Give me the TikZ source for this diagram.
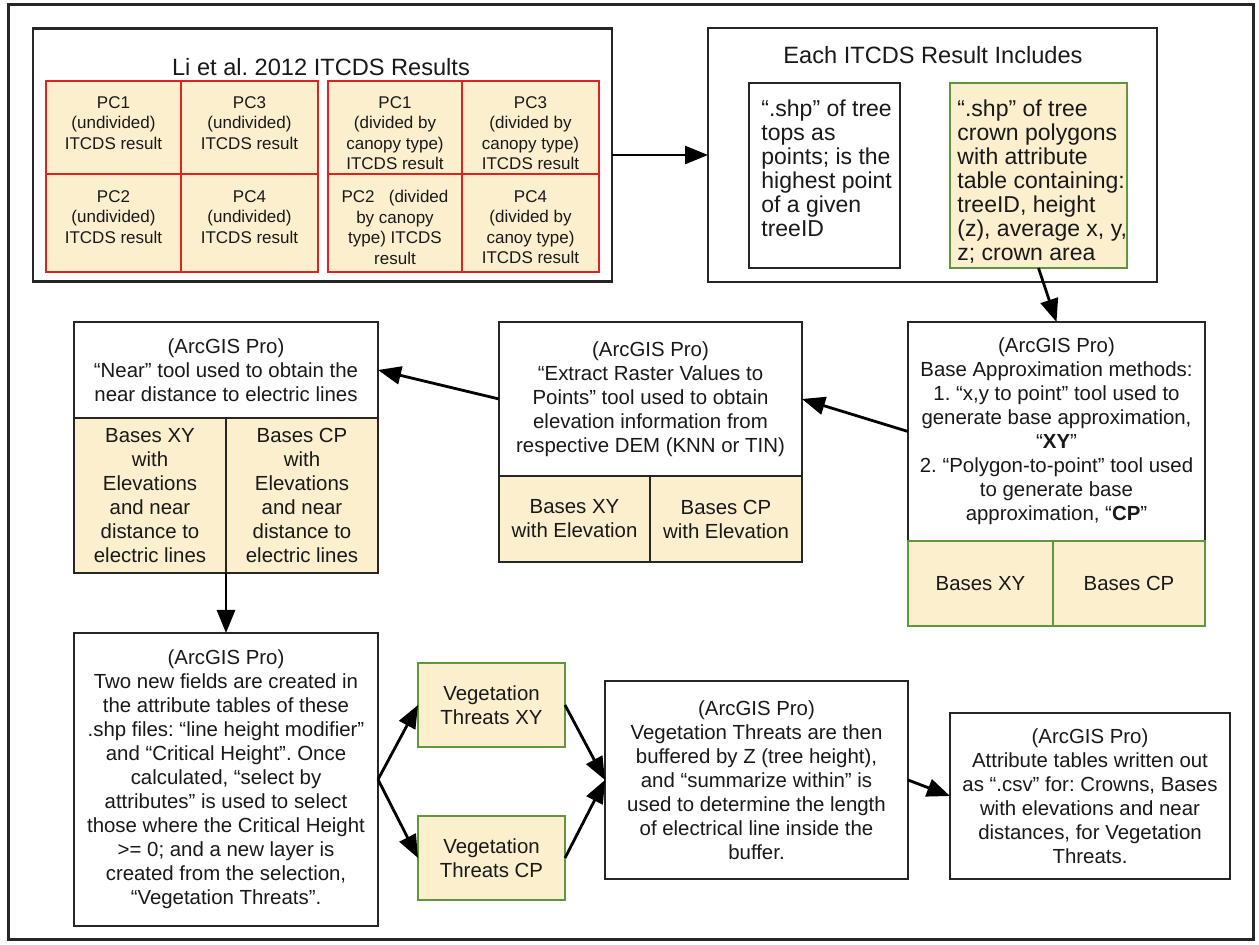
\documentclass[tikz,border=0pt]{standalone}
\usepackage{fontspec}
\setmainfont{Liberation Sans}
\usetikzlibrary{arrows.meta}
\frenchspacing
\definecolor{cream}{RGB}{252,239,206}
\definecolor{redb}{RGB}{222,34,34}
\definecolor{greenb}{RGB}{96,150,62}
\definecolor{boxb}{RGB}{38,38,38}
\definecolor{txt}{RGB}{25,25,25}
\newcommand\myfmain{\fontsize{10.2}{12}\selectfont}
\newcommand\myfcell{\fontsize{8.5}{10.25}\selectfont}
\newcommand\myfbig{\fontsize{11.5}{12}\selectfont}
\newcommand\myftitle{\fontsize{11.8}{14}\selectfont}
\tikzset{
  box/.style={draw=boxb, line width=1.2pt, inner sep=0pt, outer sep=0pt, align=center, font=\myfmain, text=txt},
  fillbox/.style={box, fill=cream},
  greenbox/.style={box, fill=cream, draw=greenb},
  redcell/.style={draw=redb, line width=1pt, fill=cream, inner sep=0pt, outer sep=0pt},
  celltxt/.style={inner sep=0pt, align=center, font=\myfcell, text=txt},
  titletxt/.style={inner sep=0pt, font=\myftitle, text=txt},
  ltxt/.style={inner sep=0pt, align=left, font=\myfbig, text=txt},
  arr/.style={-{Triangle[length=11.5pt,width=9pt]}, line width=1.4pt, draw=black},
}
\begin{document}
\begin{tikzpicture}[x=0.5pt,y=-0.5pt]
\useasboundingbox (0,0) rectangle (1259,945);
\fill[white] (0,0) rectangle (1259,945);
\draw[line width=1.5pt, boxb] (8,5) rectangle (1253,940);

% ---- Li et al. box
\node[box, minimum width=289.5pt, minimum height=126.5pt] (li) at (322.5,155) {};
\node[titletxt] (litit) at (321,67) {Li et al. 2012 ITCDS Results};
\node[redcell, minimum width=67.5pt, minimum height=46.5pt] (c1) at (113.5,127.5) {};
\node[redcell, minimum width=68.5pt, minimum height=46.5pt] (c2) at (249.5,127.5) {};
\node[redcell, minimum width=67pt, minimum height=46.5pt] (c3) at (395,127.5) {};
\node[redcell, minimum width=68.5pt, minimum height=46.5pt] (c4) at (530.5,127.5) {};
\node[redcell, minimum width=67.5pt, minimum height=49pt] (c5) at (113.5,223) {};
\node[redcell, minimum width=68.5pt, minimum height=49pt] (c6) at (249.5,223) {};
\node[redcell, minimum width=67pt, minimum height=49pt] (c7) at (395,223) {};
\node[redcell, minimum width=68.5pt, minimum height=49pt] (c8) at (530.5,223) {};
\node[celltxt, anchor=north] (t1) at (113.5,96) {PC1\\(undivided)\\ITCDS result};
\node[celltxt, anchor=north] (t2) at (249.5,96) {PC3\\(undivided)\\ITCDS result};
\node[celltxt, anchor=north] (t3) at (395,96) {PC1\\(divided by\\canopy type)\\ITCDS result};
\node[celltxt, anchor=north] (t4) at (530.5,96) {PC3\\(divided by\\canopy type)\\ITCDS result};
\node[celltxt, anchor=north] (t5) at (113.5,190) {PC2\\(undivided)\\ITCDS result};
\node[celltxt, anchor=north] (t6) at (249.5,190) {PC4\\(undivided)\\ITCDS result};
\node[celltxt, anchor=north] (t7) at (395,190) {PC2\ \ \ (divided\\by canopy\\type) ITCDS\\result};
\node[celltxt, anchor=north] (t8) at (530.5,190) {PC4\\(divided by\\canoy type)\\ITCDS result};

% ---- Each ITCDS box
\node[box, minimum width=224.5pt, minimum height=127pt] (each) at (932.5,155) {};
\node[titletxt] (eachtit) at (933,55) {Each ITCDS Result Includes};
\node[box, minimum width=75.5pt, minimum height=92.5pt] (wbox) at (824.5,175.5) {};
\node[greenbox, minimum width=88.5pt, minimum height=92.5pt] (gbox) at (1038.5,175.5) {};
\node[ltxt, anchor=north west] (wtxt) at (761,99) {“.shp” of tree\\tops as\\points; is the\\highest point\\of a given\\treeID};
\node[ltxt, anchor=north west] (gtxt) at (957,99) {“.shp” of tree\\crown polygons\\with attribute\\table containing:\\treeID, height\\(z), average x, y,\\z; crown area};

% ---- Base approximation
\node[box, minimum width=148.5pt, minimum height=109.5pt] (basetop) at (1056.5,431.5) {(ArcGIS Pro)\\Base Approximation methods:\\1. “x,y to point” tool used to\\generate base approximation,\\“\textbf{XY}”\\2. “Polygon-to-point” tool used\\to generate base\\approximation, “\textbf{CP}”};
\node[greenbox, minimum width=72.5pt, minimum height=42.5pt] (basec1) at (980.5,583.5) {Bases XY};
\node[greenbox, minimum width=76pt, minimum height=42.5pt] (basec2) at (1129,583.5) {Bases CP};

% ---- Extract
\node[box, minimum width=151.5pt, minimum height=77pt] (extop) at (650.5,399) {(ArcGIS Pro)\\“Extract Raster Values to\\Points” tool used to obtain\\elevation information from\\respective DEM (KNN or TIN)};
\node[fillbox, minimum width=75.5pt, minimum height=43pt] (exc1) at (574.5,519) {Bases XY\\with Elevation};
\node[fillbox, minimum width=76pt, minimum height=43pt] (exc2) at (726,519) {Bases CP\\with Elevation};

% ---- Near
\node[box, minimum width=152pt, minimum height=48pt] (neartop) at (226,370) {(ArcGIS Pro)\\“Near” tool used to obtain the\\near distance to electric lines};
\node[fillbox, minimum width=76pt, minimum height=77.5pt] (nearc1) at (150,495.5) {Bases XY\\with\\Elevations\\and near\\distance to\\electric lines};
\node[fillbox, minimum width=76pt, minimum height=77.5pt] (nearc2) at (302,495.5) {Bases CP\\with\\Elevations\\and near\\distance to\\electric lines};

% ---- bottom row
\node[box, minimum width=152pt, minimum height=146.5pt] (tb) at (226,779.5) {(ArcGIS Pro)\\Two new fields are created in\\the attribute tables of these\\.shp files: “line height modifier”\\and “Critical Height”. Once\\calculated, “select by\\attributes” is used to select\\those where the Critical Height\\>= 0; and a new layer is\\created from the selection,\\“Vegetation Threats”.};
\node[greenbox, minimum width=73.5pt, minimum height=42pt] (vxy) at (491.5,705) {Vegetation\\Threats XY};
\node[greenbox, minimum width=73.5pt, minimum height=42pt] (vcp) at (491.5,858) {Vegetation\\Threats CP};
\node[box, minimum width=151.5pt, minimum height=99pt] (buf) at (756.5,780) {(ArcGIS Pro)\\Vegetation Threats are then\\buffered by Z (tree height),\\and “summarize within” is\\used to determine the length\\of electrical line inside the\\buffer.};
\node[box, minimum width=140pt, minimum height=83pt] (csv) at (1090,796) {(ArcGIS Pro)\\Attribute tables written out\\as “.csv” for: Crowns, Bases\\with elevations and near\\distances, for Vegetation\\Threats.};

% ---- connectors
\draw[arr] (li.east) -- (each.west);
\draw[arr] (gbox.south) -- (basetop.north);
\draw[arr] (basetop.west) -- (extop.east);
\draw[arr] (extop.west) -- (neartop.east);
\draw[arr] (nearc1.south east) -- (tb.north);
\draw[arr] (tb.east) -- (vxy.west);
\draw[arr] (tb.east) -- (vcp.west);
\draw[arr] (vxy.east) -- (buf.west);
\draw[arr] (vcp.east) -- (buf.west);
\draw[arr] (buf.east) -- (csv.west);
\end{tikzpicture}
\end{document}
